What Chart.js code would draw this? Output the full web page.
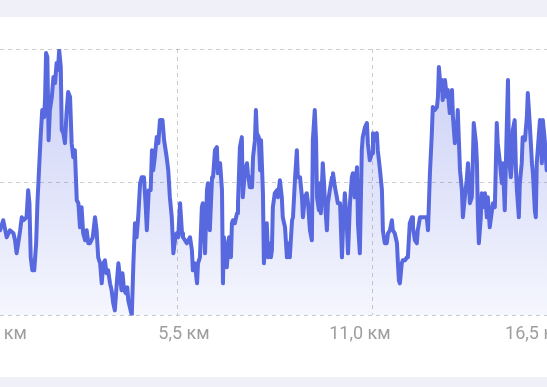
<!DOCTYPE html>
<html>
<head>
<meta charset="utf-8">
<script src="https://cdn.jsdelivr.net/npm/chart.js@4/dist/chart.umd.min.js"></script>
<style>
    html, body { margin: 0; padding: 0; }
    body { width: 547px; height: 387px; background: #eff0f8; position: relative; overflow: hidden; }
    #card { position: absolute; left: 0; top: 17px; width: 547px; height: 360px; background: #ffffff; }
    #myChart { display: block; }
</style>
</head>
<body>
<div id="card"><canvas id="myChart" width="547" height="360"></canvas></div>
<script>
// Distance (km) of each sample along the track
const distanceKm = [
    0.00, 0.10, 0.21, 0.31, 0.42, 0.47, 0.52, 0.57, 0.63, 0.68, 0.73, 0.83, 0.88, 0.92, 0.96, 1.01,
    1.07, 1.13, 1.17, 1.23, 1.27, 1.32, 1.38, 1.41, 1.44, 1.48, 1.52, 1.56, 1.62, 1.67, 1.72, 1.77,
    1.81, 1.85, 1.90, 1.93, 1.98, 2.03, 2.08, 2.13, 2.19, 2.24, 2.29, 2.34, 2.40, 2.45, 2.50, 2.55,
    2.60, 2.66, 2.71, 2.76, 2.81, 2.90, 2.97, 3.02, 3.07, 3.13, 3.18, 3.23, 3.28, 3.33, 3.38, 3.44,
    3.49, 3.54, 3.59, 3.65, 3.70, 3.75, 3.80, 3.83, 3.88, 3.94, 3.98, 4.01, 4.06, 4.12, 4.17, 4.22,
    4.27, 4.32, 4.38, 4.43, 4.50, 4.55, 4.59, 4.65, 4.71, 4.75, 4.79, 4.84, 4.90, 4.95, 5.00, 5.08,
    5.13, 5.21, 5.26, 5.31, 5.37, 5.42, 5.47, 5.52, 5.57, 5.63, 5.69, 5.72, 5.84, 5.94, 6.00, 6.03,
    6.09, 6.16, 6.19, 6.25, 6.31, 6.34, 6.41, 6.47, 6.50, 6.56, 6.63, 6.66, 6.72, 6.78, 6.81, 6.88,
    6.94, 6.97, 7.00, 7.06, 7.09, 7.16, 7.22, 7.25, 7.28, 7.34, 7.41, 7.44, 7.50, 7.56, 7.59, 7.66,
    7.72, 7.75, 7.81, 7.88, 7.91, 7.97, 8.00, 8.03, 8.09, 8.13, 8.16, 8.22, 8.25, 8.28, 8.34, 8.38,
    8.41, 8.47, 8.50, 8.53, 8.59, 8.66, 8.69, 8.75, 8.81, 8.84, 8.91, 8.97, 9.00, 9.06, 9.13, 9.16,
    9.22, 9.28, 9.31, 9.38, 9.44, 9.47, 9.53, 9.59, 9.63, 9.69, 9.75, 9.78, 9.84, 9.88, 9.91, 9.97,
    10.00, 10.03, 10.09, 10.13, 10.16, 10.22, 10.25, 10.31, 10.38, 10.41, 10.47, 10.53, 10.56, 10.63, 10.69, 10.72,
    10.78, 10.84, 10.88, 10.94, 11.00, 11.03, 11.09, 11.16, 11.19, 11.25, 11.31, 11.34, 11.41, 11.47, 11.50, 11.56,
    11.63, 11.66, 11.72, 11.78, 11.81, 11.88, 11.94, 11.97, 12.00, 12.03, 12.09, 12.13, 12.19, 12.25, 12.28, 12.34,
    12.41, 12.44, 12.47, 12.50, 12.56, 12.59, 12.66, 12.72, 12.75, 12.81, 12.88, 12.91, 12.97, 13.03, 13.06, 13.13,
    13.22, 13.34, 13.38, 13.44, 13.50, 13.53, 13.59, 13.66, 13.69, 13.72, 13.78, 13.81, 13.84, 13.91, 13.97, 14.00,
    14.06, 14.13, 14.16, 14.22, 14.28, 14.31, 14.38, 14.44, 14.47, 14.53, 14.59, 14.63, 14.69, 14.75, 14.78, 14.81,
    14.88, 14.91, 14.94, 14.97, 15.03, 15.06, 15.09, 15.16, 15.22, 15.25, 15.31, 15.38, 15.41, 15.47, 15.53, 15.56,
    15.63, 15.69, 15.72, 15.78, 15.84, 15.88, 15.91, 15.97, 16.00, 16.03, 16.09, 16.13, 16.16, 16.22, 16.25, 16.31,
    16.34, 16.41, 16.47, 16.50, 16.56, 16.63, 16.66, 16.72, 16.75, 16.78, 16.84, 16.88, 16.94, 16.97, 17.03, 17.09,
    17.15
];

// Elevation (m, relative) of each sample
const elevation = [
    42.5, 47.5, 39, 42.5, 41, 37.5, 31, 36, 42.5, 49, 47.5, 49, 62.5, 56, 29, 22.5,
    22.5, 36, 56, 76, 89, 102.5, 99, 109, 131, 129, 87.5, 102.5, 109, 119, 116, 126,
    122.5, 132.5, 124, 92.5, 91, 86, 101, 111.5, 109, 86, 79, 82.5, 57.5, 56, 44, 54,
    41, 37.5, 42.5, 36, 36, 39, 49, 42.5, 29, 26, 16, 26, 27.5, 21, 22.5, 16,
    12.5, 6, 2.5, 16, 26, 19, 12.5, 21, 12.5, 11, 14, 7.5, 4, 0, 26, 46,
    39, 49, 66, 69, 69, 56, 42.5, 62.5, 62.5, 82.5, 72.5, 79, 89, 86, 97.5, 97.5,
    87.5, 79, 72.5, 59, 49, 31, 37.5, 41, 39, 56, 41, 39, 36, 39, 32.5, 22.5,
    26, 16, 26, 29, 54, 56, 31, 62.5, 66, 42.5, 69, 69, 82.5, 84, 71, 76,
    62.5, 16, 39, 32.5, 24, 39, 29, 46, 47.5, 46, 51, 56, 84, 89, 59, 72.5,
    76, 71, 64, 64, 79, 87.5, 102.5, 91, 89, 72.5, 87.5, 61, 26, 36, 46, 29,
    36, 29, 32.5, 54, 61, 62.5, 59, 67.5, 59, 49, 44, 29, 36, 29, 47.5, 49,
    67.5, 82.5, 69, 69, 59, 49, 59, 61, 56, 42.5, 37.5, 87.5, 102.5, 87.5, 59, 52.5,
    66, 51, 76, 66, 56, 42.5, 56, 62.5, 69, 71, 64, 59, 56, 56, 29, 42.5,
    61, 46, 31, 56, 69, 71, 59, 74, 46, 31, 82.5, 89, 94, 96, 86, 77.5,
    81, 91, 87.5, 91, 82.5, 72.5, 62.5, 42.5, 39, 36, 36, 41, 42.5, 47.5, 42.5, 41,
    36, 26, 17.5, 16, 26, 27.5, 27.5, 29, 29, 46, 49, 44, 37.5, 36, 42.5, 49,
    49, 49, 42.5, 71, 91, 104, 102.5, 104, 109, 124, 112.5, 117.5, 107.5, 117.5, 109, 112.5,
    101, 112.5, 99, 86, 91, 102.5, 72.5, 62.5, 49, 59, 67.5, 76, 56, 59, 76, 96,
    86, 76, 49, 36, 49, 61, 54, 61, 49, 59, 44, 52.5, 56, 54, 96, 86,
    76, 66, 76, 52.5, 92.5, 117.5, 79, 69, 76, 92.5, 97.5, 72.5, 62.5, 49, 66, 76,
    89, 87.5, 99, 111, 96, 76, 71, 52.5, 49, 76, 89, 97.5, 76, 97.5, 87.5, 72.5,
    80
];

// Axis labels and guide lines
const tickKm = [0, 5.5, 11, 16.5];
const gridKm = [5.55, 11.63];
const elevationGrid = [0, 66.5, 133];

document.addEventListener('DOMContentLoaded', function () {
    const chartData = prepareChartData();
    createChart(chartData);
});

// Build the dataset with a soft gradient fill
function prepareChartData() {
    const points = distanceKm.map((d, i) => ({ x: d, y: elevation[i] }));

    return {
        datasets: [{
            data: points,
            borderColor: '#5869e0',
            borderWidth: 4,
            borderJoinStyle: 'round',
            borderCapStyle: 'round',
            pointRadius: 0,
            tension: 0,
            fill: 'start',
            backgroundColor: function (context) {
                const area = context.chart.chartArea;
                if (!area) return 'rgba(86,104,226,0.2)';
                const g = context.chart.ctx.createLinearGradient(0, area.top, 0, area.bottom);
                g.addColorStop(0, 'rgba(86,104,226,0.32)');
                g.addColorStop(1, 'rgba(86,104,226,0.06)');
                return g;
            }
        }]
    };
}

function formatKm(v) {
    if (v === 0) return '0 км';
    return v.toFixed(1).replace('.', ',') + ' км';
}

function createChart(data) {
    const ctx = document.getElementById('myChart').getContext('2d');
    const dashGrid = {
        color: 'rgba(0,0,0,0.2)',
        lineWidth: 1,
        drawTicks: false
    };

    new Chart(ctx, {
        type: 'line',
        data: data,
        options: {
            responsive: false,
            animation: false,
            devicePixelRatio: 1,
            layout: { padding: { top: 32, bottom: 24, left: 0, right: 0 } },
            plugins: {
                legend: { display: false },
                tooltip: { enabled: false }
            },
            scales: {
                x: {
                    type: 'linear',
                    position: 'bottom',
                    min: 0,
                    max: 17.1,
                    afterBuildTicks: function (scale) {
                        scale.ticks = tickKm.map(v => ({ value: v }));
                    },
                    afterFit: function (scale) {
                        scale.paddingLeft = 0;
                        scale.paddingRight = 0;
                    },
                    grid: { display: false, drawTicks: false },
                    border: { display: false },
                    ticks: {
                        autoSkip: false,
                        maxRotation: 0,
                        minRotation: 0,
                        labelOffset: 8,
                        padding: 8,
                        color: '#9e9e9e',
                        font: { family: 'Roboto', size: 18 },
                        callback: formatKm
                    }
                },
                xg: {
                    type: 'linear',
                    position: 'bottom',
                    min: 0,
                    max: 17.1,
                    afterBuildTicks: function (scale) {
                        scale.ticks = gridKm.map(v => ({ value: v }));
                    },
                    afterFit: function (scale) {
                        scale.height = 0;
                        scale.paddingLeft = 0;
                        scale.paddingRight = 0;
                    },
                    grid: dashGrid,
                    border: { display: false, dash: [4, 4] },
                    ticks: { display: false }
                },
                y: {
                    min: 0,
                    max: 133,
                    afterBuildTicks: function (scale) {
                        scale.ticks = elevationGrid.map(v => ({ value: v }));
                    },
                    afterFit: function (scale) {
                        scale.width = 0;
                    },
                    grid: dashGrid,
                    border: { display: false, dash: [4, 4] },
                    ticks: { display: false }
                }
            }
        }
    });
}
</script>
</body>
</html>
